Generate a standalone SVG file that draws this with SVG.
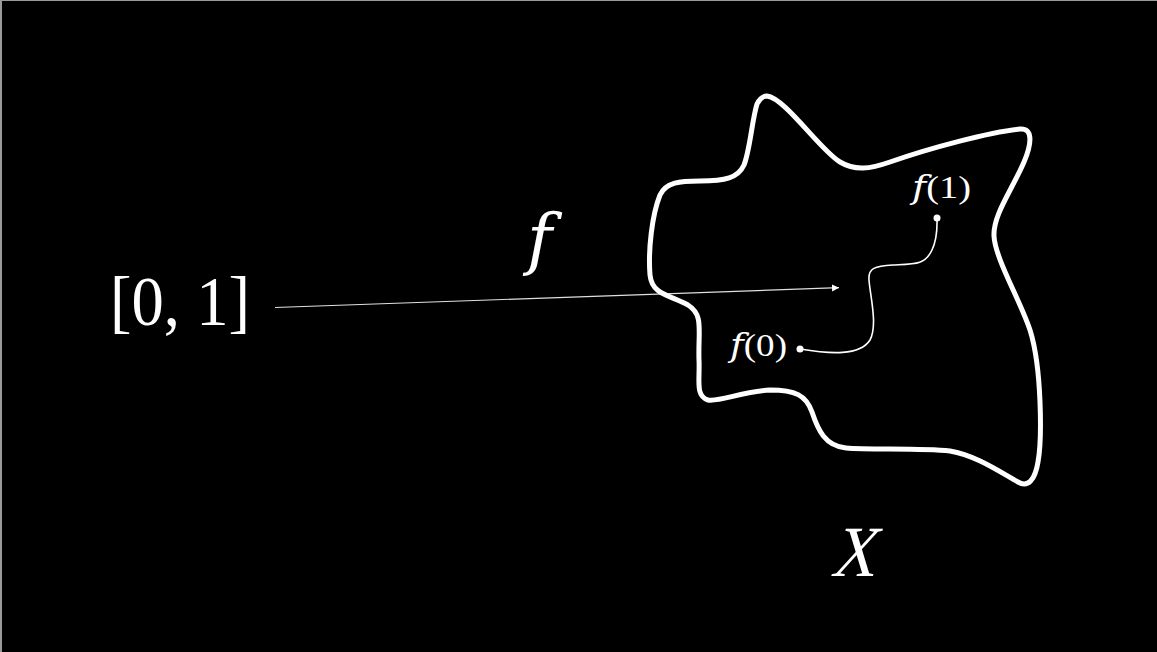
<svg xmlns="http://www.w3.org/2000/svg" width="1157" height="652" viewBox="0 0 1157 652">
<style>
text{font-family:'Liberation Serif','Times New Roman',serif;fill:#ffffff;}
.i{font-family:'DejaVu Serif',serif;font-style:italic;}
</style>
<defs>
<marker id="ah" markerWidth="8" markerHeight="8" refX="7" refY="3.5" orient="auto" markerUnits="userSpaceOnUse">
<path d="M0,0 L7,3.5 L0,7 Z" fill="#ffffff"/>
</marker>
</defs>
<rect x="0" y="0" width="1157" height="652" fill="#000000"/>
<line x1="0" y1="0.5" x2="1157" y2="0.5" stroke="#9a9a9a" stroke-width="1"/>
<line x1="1" y1="0" x2="1" y2="652" stroke="#9a9a9a" stroke-width="2"/>
<g id="connectors">
<path id="arrow-f" d="M275,307.5 L839,287.7" stroke="#e0e0e0" stroke-width="1.2" fill="none" marker-end="url(#ah)"/>
</g>
<g id="space-X">
<path d="M767,96 C785,98 820,150 840,162 C855,171 870,169 890,162 C930,148 990,132 1020,129 C1033,128 1032,143 1024,162 C1012,190 993,215 994,236 C995,258 1020,300 1030,330 C1042,368 1042,440 1038,462 C1035,480 1028,488 1018,482 C1000,472 975,455 950,451 C920,448 870,450 846,448 C825,446 818,430 812,412 C806,395 795,390 770,390 C740,392 720,402 708,400 C695,396 700,380 699,360 C698,330 704,315 688,305 C670,295 652,295 650,275 C648,250 652,215 660,195 C666,182 680,181 700,181 C725,181 738,178 744,165 C750,150 752,120 757,104 C760,98 763,96 767,96 Z" fill="none" stroke="#ffffff" stroke-width="5" stroke-linejoin="round"/>
<text transform="translate(830,576) skewX(-15)" x="0" y="0" font-size="72" textLength="44" lengthAdjust="spacingAndGlyphs">X</text>
</g>
<g id="interval">
<text x="110" y="325" font-size="70" textLength="140" lengthAdjust="spacingAndGlyphs">[0, 1]</text>
</g>
<g id="label-f">
<text class="i" x="527" y="262" font-size="68">f</text>
</g>
<g id="path-f">
<path d="M800,349 C830,354 860,356 870,340 C878,325 870,295 869,280 C868,268 875,266 893,265 C915,264 925,265 932,250 C938,237 937,225 937,218" fill="none" stroke="#ffffff" stroke-width="1.6"/>
<circle cx="800" cy="349" r="3.5" fill="#ffffff"/>
<circle cx="937" cy="218" r="3.5" fill="#ffffff"/>
</g>
<g id="f0">
<text x="730" y="356" font-size="32" textLength="57" lengthAdjust="spacingAndGlyphs"><tspan class="i">f</tspan>(0)</text>
</g>
<g id="f1">
<text x="912" y="198" font-size="32" textLength="59" lengthAdjust="spacingAndGlyphs"><tspan class="i">f</tspan>(1)</text>
</g>
</svg>
